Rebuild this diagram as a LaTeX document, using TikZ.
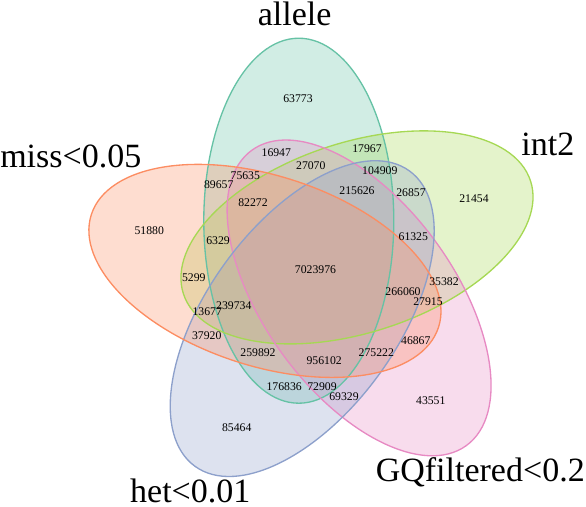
\documentclass[tikz,border=0pt]{standalone}
\usepackage{fontspec}
\setmainfont{Liberation Serif}

\definecolor{alleleC}{RGB}{102,194,165}
\definecolor{intC}{RGB}{166,216,84}
\definecolor{gqC}{RGB}{231,138,195}
\definecolor{hetC}{RGB}{141,160,203}
\definecolor{missC}{RGB}{252,141,98}

\tikzset{
  setfill/.style={fill=#1, fill opacity=0.3, draw=none},
  setline/.style={draw=#1, line width=1pt},
  num/.style={inner sep=0pt, font=\fontsize{8.8}{10}\selectfont},
  setlabel/.style={inner sep=0pt, font=\fontsize{25.5}{30}\selectfont}
}

\begin{document}
\begin{tikzpicture}[x=0.75pt,y=0.75pt,yscale=-1,xscale=1]
\useasboundingbox (0,0) rectangle (586,507);

%Shape: Ellipse fills
\path [setfill=alleleC, rotate around={-90:(298.79,220.71)}] (298.79,220.71) ellipse [x radius=182.5, y radius=95];
\path [setfill=intC, rotate around={-18:(356.98,237.39)}] (356.98,237.39) ellipse [x radius=182.5, y radius=95];
\path [setfill=gqC, rotate around={54:(359.09,297.90)}] (359.09,297.90) ellipse [x radius=182.5, y radius=95];
\path [setfill=hetC, rotate around={126:(302.21,318.61)}] (302.21,318.61) ellipse [x radius=182.5, y radius=95];
\path [setfill=missC, rotate around={198:(264.93,270.90)}] (264.93,270.90) ellipse [x radius=182.5, y radius=95];

%Shape: Ellipse outlines
\draw [setline=alleleC, rotate around={-90:(298.79,220.71)}] (298.79,220.71) ellipse [x radius=182.5, y radius=95];
\draw [setline=intC, rotate around={-18:(356.98,237.39)}] (356.98,237.39) ellipse [x radius=182.5, y radius=95];
\draw [setline=gqC, rotate around={54:(359.09,297.90)}] (359.09,297.90) ellipse [x radius=182.5, y radius=95];
\draw [setline=hetC, rotate around={126:(302.21,318.61)}] (302.21,318.61) ellipse [x radius=182.5, y radius=95];
\draw [setline=missC, rotate around={198:(264.93,270.90)}] (264.93,270.90) ellipse [x radius=182.5, y radius=95];

% Text Node: set names
\node [setlabel, anchor=base] (lblallele) at (294.7,25.5) {allele};
\node [setlabel, anchor=base] (lblint) at (547.9,155) {int2};
\node [setlabel, anchor=base west] (lblmiss) at (0,167.3) {miss<0.05};
\node [setlabel, anchor=base east] (lblgq) at (585,481.7) {GQfiltered<0.2};
\node [setlabel, anchor=base] (lblhet) at (190.3,502.5) {het<0.01};

% Text Node: counts
\node [num] (nA) at (298,99) {63773};
\node [num] (nI) at (474,199) {21454};
\node [num] (nM) at (149.2,230.2) {51880};
\node [num] (nG) at (430.8,400.8) {43551};
\node [num] (nH) at (236.7,428) {85464};
\node [num] (nAG) at (276.3,152.5) {16947};
\node [num] (nAGI) at (310.8,165.8) {27070};
\node [num] (nAGM) at (245.3,175.8) {75635};
\node [num] (nAM) at (218.7,184.7) {89657};
\node [num] (nAGIM) at (253,202.5) {82272};
\node [num] (nAI) at (367,149) {17967};
\node [num] (nAIH) at (379.8,170.8) {104909};
\node [num] (nAGIH) at (357,190.5) {215626};
\node [num] (nIH) at (411,192.5) {26857};
\node [num] (nGIH) at (413.3,236.8) {61325};
\node [num] (nAIM) at (218,240.8) {6329};
\node [num] (nIM) at (193.8,278) {5299};
\node [num] (nall) at (315.5,269.8) {7023976};
\node [num] (nIMH) at (207.2,311.3) {13677};
\node [num] (nAIMH) at (233.8,305.3) {239734};
\node [num] (nMH) at (206.7,336) {37920};
\node [num] (nGI) at (444,281.7) {35382};
\node [num] (nGIMH) at (403,291.7) {266060};
\node [num] (nGIM) at (428,301.7) {27915};
\node [num] (nAMH) at (258,352.8) {259892};
\node [num] (nAGMH) at (324.2,360.3) {956102};
\node [num] (nGMH) at (376.3,352.8) {275222};
\node [num] (nGM) at (415.8,340.5) {46867};
\node [num] (nAH) at (284.2,386.7) {176836};
\node [num] (nAGH) at (322,386.7) {72909};
\node [num] (nGH) at (344,397) {69329};

\end{tikzpicture}
\end{document}
